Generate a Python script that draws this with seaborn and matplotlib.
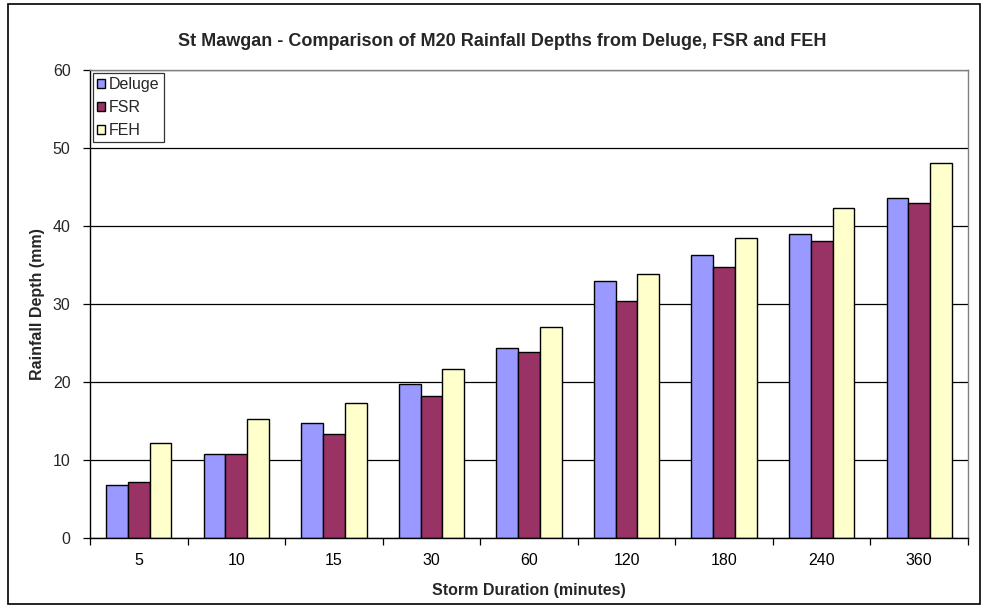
import numpy as np
import pandas as pd
import matplotlib
matplotlib.use("Agg")
import matplotlib.pyplot as plt
import seaborn as sns
from matplotlib.patches import Rectangle

durations = ["5", "10", "15", "30", "60", "120", "180", "240", "360"]
deluge = [6.8, 10.8, 14.8, 19.8, 24.3, 32.9, 36.3, 39.0, 43.6]
fsr = [7.2, 10.8, 13.3, 18.2, 23.8, 30.4, 34.8, 38.1, 43.0]
feh = [12.2, 15.2, 17.3, 21.7, 27.1, 33.8, 38.5, 42.3, 48.1]
series = ["Deluge", "FSR", "FEH"]
colors = ["#9999FF", "#993366", "#FFFFCC"]

df = pd.DataFrame({
    "Duration": durations * 3,
    "Depth": deluge + fsr + feh,
    "Source": [s for s in series for _ in durations],
})

sns.set_theme(style="white")
plt.rcParams["font.family"] = ["Liberation Sans", "DejaVu Sans"]

fig = plt.figure(figsize=(9.87, 6.08), dpi=100)
ax = fig.add_axes([90/987, 1-538/608, (968-90)/987, (538-70)/608])

sns.barplot(data=df, x="Duration", y="Depth", hue="Source", order=durations,
            hue_order=series, palette=colors, width=0.67, edgecolor="black",
            linewidth=1.0, saturation=1, ax=ax, legend=True)

ax.set_ylim(0, 60)
ax.set_xlim(-0.5, 8.5)
ax.set_yticks(np.arange(0, 61, 10))
ax.yaxis.grid(True, color="black", linewidth=0.9)
ax.set_axisbelow(True)
ax.set_xticks(range(len(durations)))
ax.set_xticklabels(durations)
ax.set_xticks(np.arange(-0.5, 9, 1), minor=True)
ax.tick_params(axis="x", which="major", length=0, pad=11, labelsize=11.5, colors="black")
ax.tick_params(axis="x", which="minor", length=5, width=0.9, color="black", bottom=True)
ax.tick_params(axis="y", which="major", length=5, width=0.9, color="black", left=True,
               labelsize=11.5, pad=9)
for s in ["left", "bottom"]:
    ax.spines[s].set_color("black")
    ax.spines[s].set_linewidth(1.0)
for s in ["top", "right"]:
    ax.spines[s].set_color("#808080")
    ax.spines[s].set_linewidth(1.0)

ax.set_xlabel("Storm Duration (minutes)", fontsize=11.5, fontweight="bold")
ax.set_ylabel("Rainfall Depth (mm)", fontsize=11.5, fontweight="bold")
ax.xaxis.set_label_coords(0.5, (538-583)/468)
ax.yaxis.set_label_coords((45-90)/878, 0.5)
fig.text(502/987, 1-41/608, "St Mawgan - Comparison of M20 Rainfall Depths from Deluge, FSR and FEH",
         ha="center", va="center", fontsize=13, fontweight="bold")

leg = ax.legend(loc="upper left", fontsize=11.5, frameon=True, fancybox=False,
                edgecolor="black", handlelength=0.5, handleheight=0.5,
                handletextpad=0.25, labelspacing=0.5, borderpad=0.25,
                borderaxespad=0.2, title=None)
leg.get_frame().set_linewidth(0.9)

fig.patches.append(Rectangle((8/987, 4/608), 972/987, 600/608, transform=fig.transFigure,
                             fill=False, edgecolor="black", linewidth=1.2))

fig.savefig("out.png", dpi=100)
